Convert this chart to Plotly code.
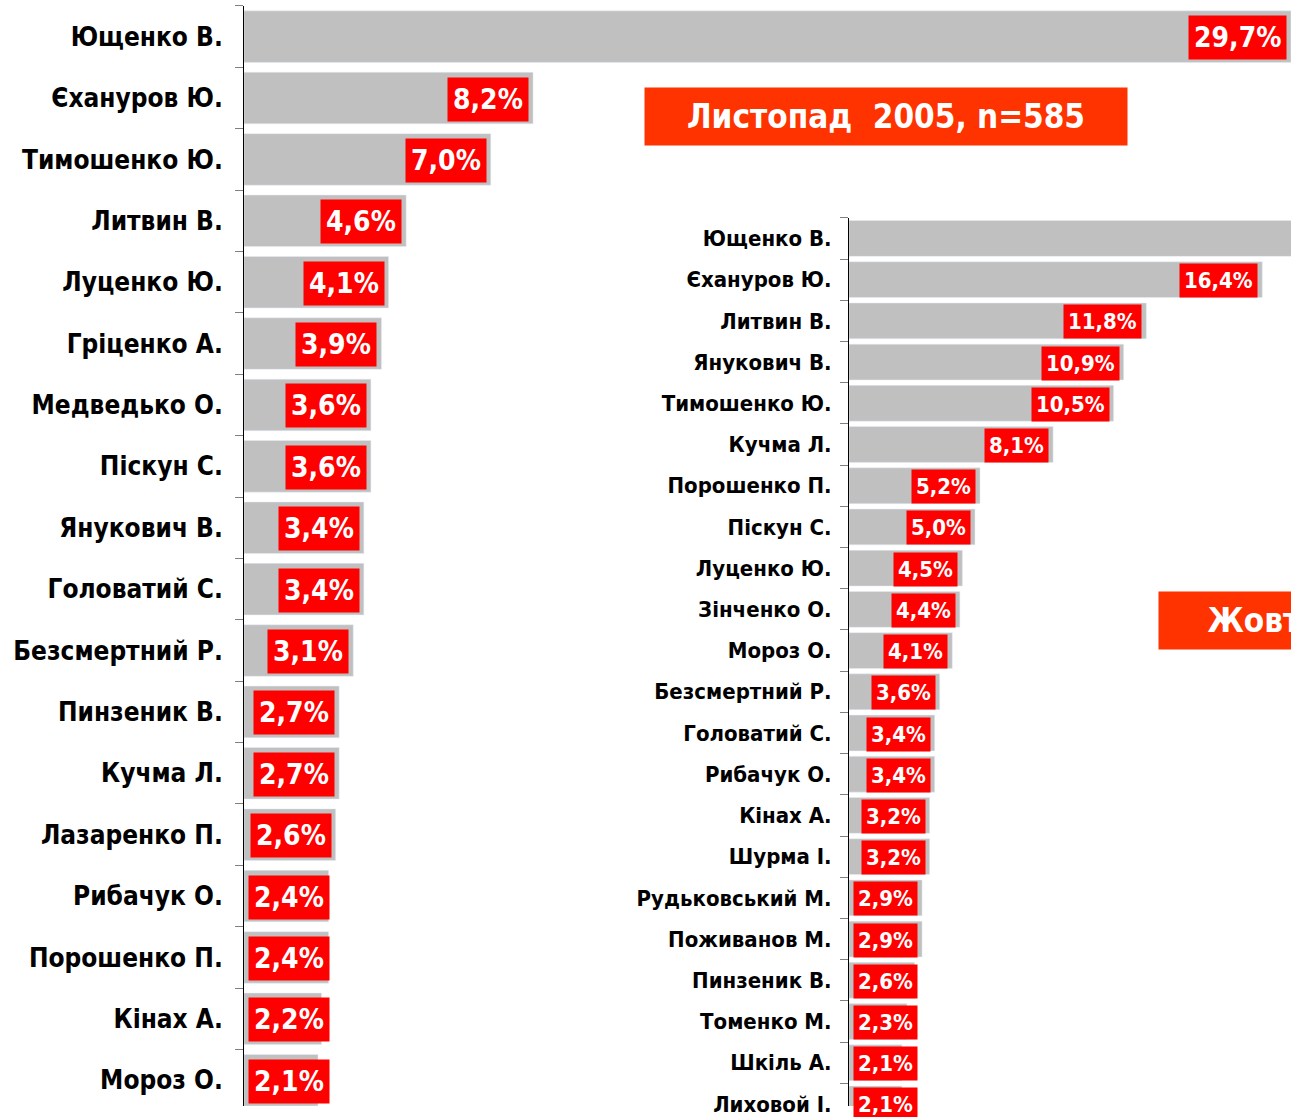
import plotly.graph_objects as go

# Листопад 2005 (left chart)
nov_names = ["Ющенко В.", "Єхануров Ю.", "Тимошенко Ю.", "Литвин В.", "Луценко Ю.",
             "Гріценко А.", "Медведько О.", "Піскун С.", "Янукович В.", "Головатий С.",
             "Безсмертний Р.", "Пинзеник В.", "Кучма Л.", "Лазаренко П.", "Рибачук О.",
             "Порошенко П.", "Кінах А.", "Мороз О."]
nov_values = [29.7, 8.2, 7.0, 4.6, 4.1, 3.9, 3.6, 3.6, 3.4, 3.4, 3.1, 2.7, 2.7, 2.6,
              2.4, 2.4, 2.2, 2.1]

# Жовтень 2005 (right chart)
oct_names = ["Ющенко В.", "Єхануров Ю.", "Литвин В.", "Янукович В.", "Тимошенко Ю.",
             "Кучма Л.", "Порошенко П.", "Піскун С.", "Луценко Ю.", "Зінченко О.",
             "Мороз О.", "Безсмертний Р.", "Головатий С.", "Рибачук О.", "Кінах А.",
             "Шурма І.", "Рудьковський М.", "Поживанов М.", "Пинзеник В.", "Томенко М.",
             "Шкіль А.", "Лиховой І."]
oct_values = [26.0, 16.4, 11.8, 10.9, 10.5, 8.1, 5.2, 5.0, 4.5, 4.4, 4.1, 3.6, 3.4, 3.4,
              3.2, 3.2, 2.9, 2.9, 2.6, 2.3, 2.1, 2.1]

W, H = 1291, 1117
FONT = "DejaVu Sans Condensed, DejaVu Sans, sans-serif"

fig = go.Figure()
fig.add_trace(go.Bar(x=nov_values, y=nov_names, orientation="h", width=0.84,
                     marker_color="#C0C0C0", xaxis="x", yaxis="y", hoverinfo="x+y"))
fig.add_trace(go.Bar(x=oct_values, y=oct_names, orientation="h", width=0.87,
                     marker_color="#C0C0C0", xaxis="x2", yaxis="y2", hoverinfo="x+y"))

x1_dom = [244 / W, 1]
x1_rng = [0, 29.7]
x2_dom = [849 / W, 1]
x2_rng = [0, 17.54]


def add_labels(names, values, xref, yref, dom, rng, size, pad):
    scale = (dom[1] - dom[0]) * W / (rng[1] - rng[0])
    for n, v in zip(names, values):
        txt = f"{v:.1f}%".replace(".", ",")
        box_w = len(txt) * 0.62 * size + 2 * pad
        if v * scale >= box_w + 8:
            x, anchor, shift = v, "right", -4
        else:
            x, anchor, shift = 0, "left", 4
        fig.add_annotation(x=x, y=n, xref=xref, yref=yref, text=txt, showarrow=False,
                           xanchor=anchor, xshift=shift, yshift=-1, bgcolor="#FF0000",
                           borderpad=pad,
                           font=dict(family=FONT, size=size, color="white", weight="bold"))


add_labels(nov_names, nov_values, "x", "y", x1_dom, x1_rng, 28, 5)
add_labels(oct_names, oct_values, "x2", "y2", x2_dom, x2_rng, 22, 4)

# title boxes
fig.add_annotation(x=644 / W, y=1 - 88 / H, xref="paper", yref="paper", xanchor="left",
                   yanchor="top", width=480, height=55, showarrow=False, bgcolor="#FF3300",
                   text="Листопад\u00a0\u00a02005, n=585",
                   font=dict(family=FONT, size=33, color="white", weight="bold"))
fig.add_annotation(x=1158 / W, y=1 - 597 / H, xref="paper", yref="paper", xanchor="left",
                   yanchor="top", width=480, height=55, showarrow=False, bgcolor="#FF3300",
                   text="Жовтень\u00a0\u00a02005, n=600",
                   font=dict(family=FONT, size=33, color="white", weight="bold"))

fig.update_layout(
    width=W, height=H, margin=dict(l=0, r=0, t=0, b=0),
    paper_bgcolor="white", plot_bgcolor="rgba(0,0,0,0)", showlegend=False,
    xaxis=dict(domain=x1_dom, range=x1_rng, anchor="y", visible=False),
    yaxis=dict(domain=[0, 1 - 6 / H], range=[17.42, -0.5], anchor="x",
               showline=True, linecolor="black", linewidth=1, ticks="outside",
               tickson="boundaries", ticklen=8, tickcolor="#808080", showgrid=False,
               ticklabelstandoff=15,
               tickfont=dict(family=FONT, size=26, color="black", weight="bold")),
    xaxis2=dict(domain=x2_dom, range=x2_rng, anchor="y2", visible=False),
    yaxis2=dict(domain=[0, 1 - 220 / H], range=[21.05, -0.5], anchor="x2",
                showline=True, linecolor="black", linewidth=1, ticks="outside",
                tickson="boundaries", ticklen=8, tickcolor="#808080", showgrid=False,
                ticklabelstandoff=12,
                tickfont=dict(family=FONT, size=22, color="black", weight="bold")),
)

fig.write_html("out.html", config={"displayModeBar": False},
               post_script="document.body.style.margin='0';document.body.style.overflow='hidden';")
